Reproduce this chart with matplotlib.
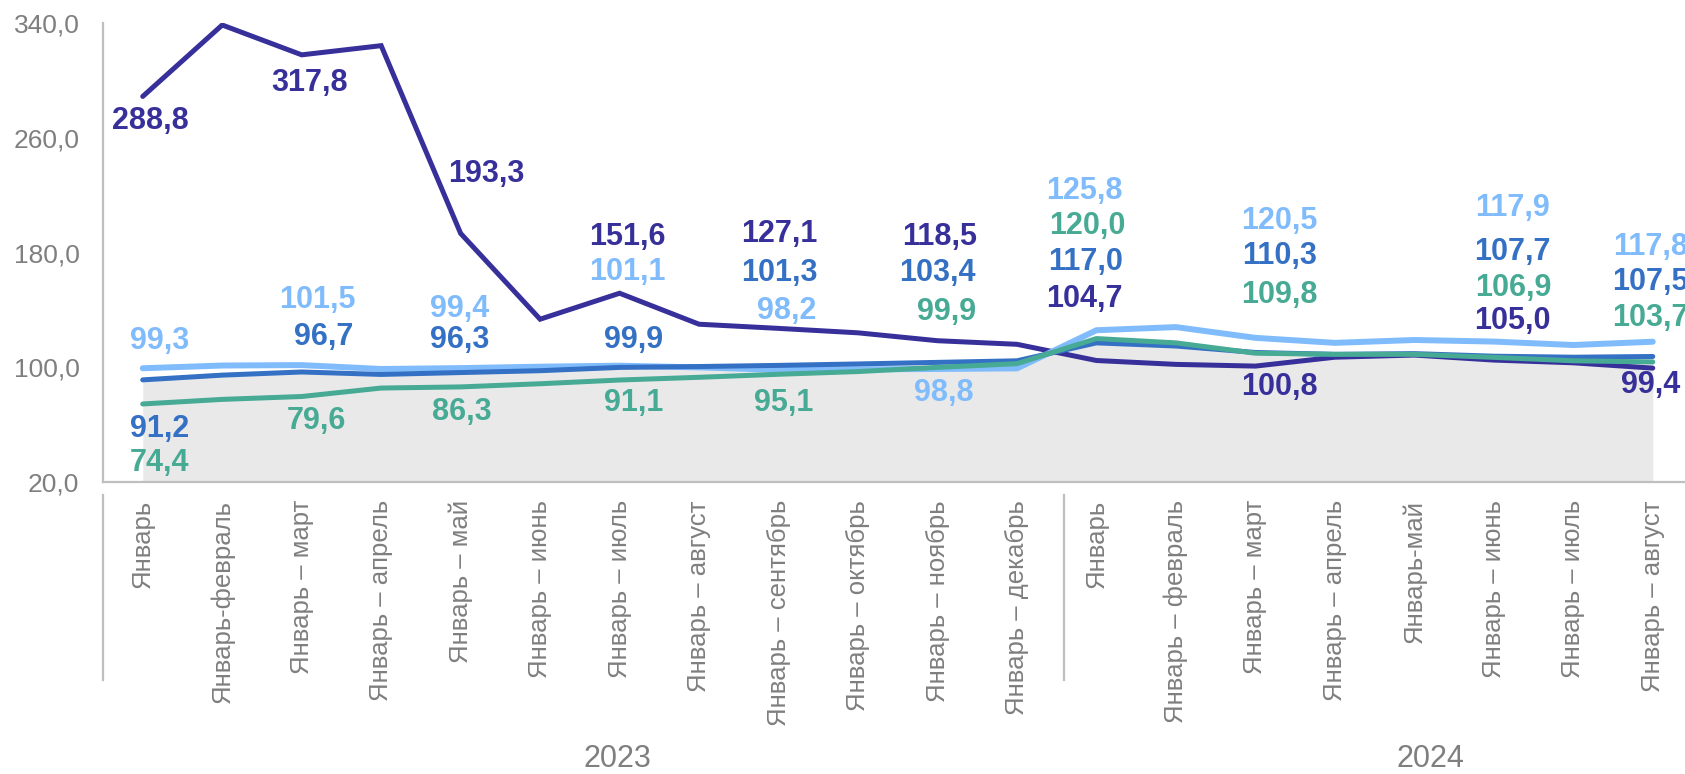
import matplotlib
matplotlib.use("Agg")
import matplotlib.pyplot as plt
from matplotlib.lines import Line2D
import numpy as np

plt.rcParams['font.family'] = ['Liberation Sans', 'DejaVu Sans']

# ---------------- data ----------------
categories = ["Январь", "Январь-февраль", "Январь – март", "Январь – апрель", "Январь – май",
              "Январь – июнь", "Январь – июль", "Январь – август", "Январь – сентябрь",
              "Январь – октябрь", "Январь – ноябрь", "Январь – декабрь",
              "Январь", "Январь – февраль", "Январь – март", "Январь – апрель", "Январь-май",
              "Январь – июнь", "Январь – июль", "Январь – август"]
years = ["2023", "2024"]

dark = [288.8, 338.6, 317.8, 324.2, 193.3, 133.5, 151.6, 130.0, 127.1, 124.0,
        118.5, 116.0, 104.7, 102.0, 100.8, 107.0, 108.5, 105.0, 103.1, 99.4]
medium = [91.2, 94.5, 96.7, 95.0, 96.3, 97.6, 99.9, 100.5, 101.3, 102.3,
          103.4, 104.5, 117.0, 114.8, 110.3, 109.0, 109.5, 107.7, 107.0, 107.5]
light = [99.3, 101.2, 101.5, 98.8, 99.4, 100.4, 101.1, 99.9, 98.2, 98.5,
         98.8, 99.2, 125.8, 128.0, 120.5, 117.0, 119.0, 117.9, 115.5, 117.8]
teal = [74.4, 77.6, 79.6, 85.5, 86.3, 88.5, 91.1, 93.0, 95.1, 97.0,
        99.9, 102.5, 120.0, 117.0, 109.8, 109.0, 109.0, 106.9, 104.5, 103.7]

yticks = [20, 100, 180, 260, 340]

# label offsets (pixels: dx right, dy down) for labelled points
lab_dark = {0: (8, 25), 2: (8, 28), 4: (26, -59), 6: (8, -56), 8: (1, -94), 10: (2, -104),
            12: (-12, -62), 14: (24, 21), 17: (19, -39), 19: (-2, 17)}
lab_medium = {0: (17, 49), 2: (22, -35), 4: (-1, -33), 6: (14, -27), 8: (1, -92), 10: (0, -89),
              12: (-11, -81), 14: (24, -96), 17: (19, -104), 19: (-2, -74)}
lab_light = {0: (17, -27), 2: (16, -65), 4: (-1, -59), 6: (8, -94), 8: (8, -59), 10: (6, 24),
             12: (-12, -139), 14: (24, -117), 17: (19, -134), 19: (-2, -95)}
lab_teal = {0: (17, 59), 2: (15, 24), 4: (1, 25), 6: (14, 23), 8: (5, 29), 10: (9, -55),
            12: (-9, -113), 14: (24, -58), 17: (19, -69), 19: (-2, -44)}

# ---------------- styling ----------------
C_DARK = "#37309A"
C_MED = "#3470C4"
C_LIGHT = "#80BCFC"
C_TEAL = "#47AA94"
C_FILL = "#E9E9E9"
C_AXIS = "#BFBFBF"
C_TEXT = "#7F7F7F"

W, H = 1685, 774
fig = plt.figure(figsize=(W / 100, H / 100), dpi=100)
ax = fig.add_axes([103 / W, (H - 482) / H, (1692.5 - 103) / W, (482 - 23) / H])

x = np.arange(len(categories))
ax.fill_between(x, 20, medium, color=C_FILL, lw=0, zorder=1)
ax.plot(x, dark, color=C_DARK, lw=3.6, zorder=3, solid_capstyle='round', solid_joinstyle='miter')
ax.plot(x, light, color=C_LIGHT, lw=4.3, zorder=4, solid_capstyle='round')
ax.plot(x, medium, color=C_MED, lw=3.6, zorder=5, solid_capstyle='round')
ax.plot(x, teal, color=C_TEAL, lw=3.6, zorder=6, solid_capstyle='round')

ax.set_xlim(-0.5, len(categories) - 0.5)
ax.set_ylim(20, 340)
ax.set_yticks(yticks)
ax.set_yticklabels([f"{v:.1f}".replace('.', ',') for v in yticks], fontsize=19, color=C_TEXT)
ax.set_xticks(x)
ax.set_xticklabels(categories, rotation=90, fontsize=18.5, color=C_TEXT, va='top', ha='center')
ax.tick_params(axis='y', length=0, pad=17)
ax.tick_params(axis='x', length=0, pad=13)
for s in ['top', 'right']:
    ax.spines[s].set_visible(False)
for s in ['left', 'bottom']:
    ax.spines[s].set_color(C_AXIS)
    ax.spines[s].set_linewidth(1.6)


def fmt(v):
    return f"{v:.1f}".replace('.', ',')


for series, labs, col in [(dark, lab_dark, C_DARK), (medium, lab_medium, C_MED),
                          (light, lab_light, C_LIGHT), (teal, lab_teal, C_TEAL)]:
    for i, (dx, dy) in labs.items():
        ax.annotate(fmt(series[i]), xy=(i, series[i]), xytext=(dx * 0.72, -dy * 0.72),
                    textcoords='offset points', ha='center', va='center',
                    fontsize=22, fontweight='bold', color=col, zorder=10,
                    annotation_clip=False)

# category group separators (figure pixel coords)
for xp in [103, 1064]:
    fig.add_artist(Line2D([xp / W, xp / W], [(H - 495) / H, (H - 680) / H],
                          color=C_AXIS, lw=1.6))

# year labels
fig.text(617 / W, (H - 759) / H, years[0], fontsize=22, color=C_TEXT, ha='center', va='center')
fig.text(1430 / W, (H - 759) / H, years[1], fontsize=22, color=C_TEXT, ha='center', va='center')

fig.savefig("out.png", dpi=100)
